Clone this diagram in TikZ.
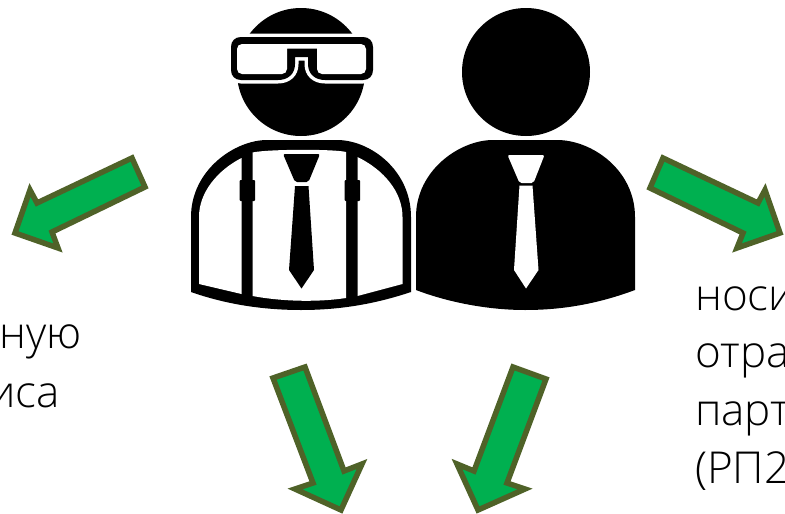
\documentclass[tikz,border=0pt]{standalone}
\usepackage{fontspec}
\setmainfont{Open Sans}[UprightFont=* Light]
\newcommand{\gogglepath}{(241,37) -- (363,37) .. controls (369,37) and (373,41) .. (373,47)
  -- (373,70) .. controls (373,76) and (369,80) .. (363,80) -- (325,80)
  .. controls (315,80) and (308,74) .. (308,64) -- (308,57) -- (295,57) -- (295,64)
  .. controls (295,74) and (288,80) .. (278,80) -- (241,80)
  .. controls (235,80) and (231,76) .. (231,70) -- (231,47)
  .. controls (231,41) and (235,37) .. (241,37) -- cycle}
\begin{document}
\begin{tikzpicture}[
  x=1pt, y=-1pt,
  greenarrow/.style={draw=arrowedge, fill=arrowfill, line width=5.5pt, miter limit=10},
  blackpart/.style={fill=black},
  whitepart/.style={fill=white},
  halo/.style={draw=white, line width=7pt},
  caption/.style={font=\fontsize{44}{58}\selectfont, text=black, inner sep=0pt}
]
  \definecolor{arrowfill}{HTML}{00B050}
  \definecolor{arrowedge}{HTML}{4F6228}
  \clip (0,0) rectangle (785,514);
  \path[use as bounding box] (0,0) rectangle (785,514);

  % head with goggles
  \fill[blackpart] (301,72) circle (64);
  \draw[halo] \gogglepath;
  \fill[blackpart] \gogglepath;
  \fill[whitepart] (287,48.5) -- (317,48.5) [rounded corners=5pt] -- (317,74) -- (366,74)
    -- (366,44) -- (237,44) -- (237,74) -- (287,74) [sharp corners] -- (287,48.5) -- cycle;

  % body with suspenders
  \fill[blackpart] (191,217) .. controls (191,170) and (235,140) .. (267,140) -- (337,140)
    .. controls (370,140) and (411,170) .. (411,217) -- (411,292)
    .. controls (375,304) and (340,310) .. (301,310)
    .. controls (262,310) and (225,304) .. (191,292) -- cycle;
  \fill[whitepart] (199,284) -- (199,217) .. controls (199,192) and (218,170) .. (241.5,158)
    -- (241.5,294) -- cycle;
  \fill[whitepart] (252.5,152.5) .. controls (268,149) and (335,149) .. (346,152)
    -- (346,298) .. controls (320,302) and (285,302) .. (252.5,296) -- cycle;
  \fill[whitepart] (357.5,157) .. controls (384,170) and (402.5,192) .. (402.5,217)
    -- (402.5,284) -- (357.5,296) -- cycle;
  \fill[blackpart, rounded corners=1pt] (239.5,180) rectangle (255,201);
  \fill[blackpart, rounded corners=1pt] (344.5,180) rectangle (360,201);
  \fill[blackpart, rounded corners=2pt] (283,154) -- (320,154) -- (308.5,182) -- (295,182) -- cycle;
  \fill[blackpart] (295,186) -- (308.5,186) -- (314,270) -- (301.5,288.5) -- (289,270) -- cycle;

  % plain head and body
  \fill[blackpart] (526,72) circle (64);
  \fill[blackpart] (416,217) .. controls (416,170) and (460,140) .. (493,140) -- (557,140)
    .. controls (592,140) and (635,170) .. (635,217) -- (635,290)
    .. controls (600,303) and (565,310) .. (525,310)
    .. controls (490,310) and (450,303) .. (416,290) -- cycle;
  \fill[whitepart, rounded corners=2pt] (507.5,155) -- (544.5,155) -- (533.5,183) -- (519.5,183) -- cycle;
  \fill[whitepart] (519.5,185.5) -- (532.5,185.5) -- (538.5,270) -- (526,288.5) -- (514,270) -- cycle;

  % arrows
  \draw[greenarrow] (132,158) -- (145,187) -- (52,232) -- (58,248) -- (15,233)
    -- (30,190) -- (37,203) -- cycle;
  \draw[greenarrow] (663,158) -- (758,203) -- (765,190) -- (780,233) -- (737,248)
    -- (743,233) -- (650,188) -- cycle;
  \draw[greenarrow] (273,378) -- (305,367) -- (344,471) -- (362,464) -- (341,510)
    -- (295,489) -- (313,483) -- cycle;
  \draw[greenarrow] (513,367) -- (546,379) -- (507,483) -- (525,489) -- (478,510)
    -- (457,464) -- (474,471) -- cycle;

  % texts
  \node[caption, anchor=base east] (leftone) at (82,348) {ную};
  \node[caption, anchor=base east] (lefttwo) at (60,407) {иса};
  \node[caption, anchor=base west] (rightone) at (695,310) {носи};
  \node[caption, anchor=base west] (righttwo) at (695,367) {отра};
  \node[caption, anchor=base west] (rightthree) at (695,425) {парт};
  \node[caption, anchor=base west] (rightfour) at (695,483) {(РП2};
\end{tikzpicture}
\end{document}
